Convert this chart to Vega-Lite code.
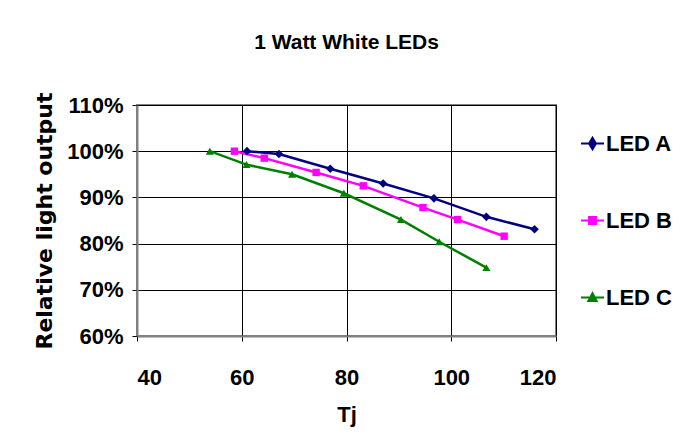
{
  "$schema": "https://vega.github.io/schema/vega-lite/v6.json",
  "autosize": "none",
  "width": 419,
  "height": 231,
  "padding": {"left": 137, "top": 105, "right": 134, "bottom": 100},
  "background": "white",
  "title": {
    "text": "1 Watt White LEDs",
    "font": "Liberation Sans",
    "fontSize": 21,
    "fontWeight": "bold",
    "color": "black",
    "anchor": "middle",
    "offset": 39
  },
  "config": {
    "view": {"stroke": "#808080", "strokeWidth": 2},
    "axis": {
      "labelFont": "Liberation Sans",
      "labelFontSize": 22,
      "labelFontWeight": "bold",
      "labelColor": "black",
      "titleColor": "black",
      "gridColor": "black",
      "gridOpacity": 1,
      "gridWidth": 1,
      "domainColor": "#808080",
      "domainWidth": 2,
      "tickColor": "black",
      "tickSize": 5
    }
  },
  "data": {
    "values": [
      {"LED": "LED A", "Tj": 61.0, "rel": 1.000},
      {"LED": "LED A", "Tj": 67.1, "rel": 0.994},
      {"LED": "LED A", "Tj": 76.9, "rel": 0.962},
      {"LED": "LED A", "Tj": 87.0, "rel": 0.930},
      {"LED": "LED A", "Tj": 96.7, "rel": 0.898},
      {"LED": "LED A", "Tj": 106.7, "rel": 0.858},
      {"LED": "LED A", "Tj": 115.9, "rel": 0.831},
      {"LED": "LED B", "Tj": 58.6, "rel": 1.000},
      {"LED": "LED B", "Tj": 64.3, "rel": 0.985},
      {"LED": "LED B", "Tj": 74.2, "rel": 0.954},
      {"LED": "LED B", "Tj": 83.2, "rel": 0.925},
      {"LED": "LED B", "Tj": 94.6, "rel": 0.878},
      {"LED": "LED B", "Tj": 101.2, "rel": 0.852},
      {"LED": "LED B", "Tj": 110.1, "rel": 0.816},
      {"LED": "LED C", "Tj": 53.9, "rel": 1.000},
      {"LED": "LED C", "Tj": 60.9, "rel": 0.971},
      {"LED": "LED C", "Tj": 69.6, "rel": 0.950},
      {"LED": "LED C", "Tj": 79.5, "rel": 0.909},
      {"LED": "LED C", "Tj": 90.4, "rel": 0.852},
      {"LED": "LED C", "Tj": 97.7, "rel": 0.804},
      {"LED": "LED C", "Tj": 106.7, "rel": 0.748}
    ]
  },
  "encoding": {
    "x": {
      "field": "Tj",
      "type": "quantitative",
      "scale": {"domain": [40, 120], "nice": false, "zero": false},
      "axis": {
        "values": [40, 60, 80, 100, 120],
        "title": "Tj",
        "titleFont": "Liberation Sans",
        "titleFontSize": 22,
        "titleFontWeight": "bold",
        "labelPadding": 26,
        "titlePadding": 16
      }
    },
    "y": {
      "field": "rel",
      "type": "quantitative",
      "scale": {"domain": [0.6, 1.1], "nice": false, "zero": false},
      "axis": {
        "values": [0.6, 0.7, 0.8, 0.9, 1.0, 1.1],
        "format": ".0%",
        "title": "Relative light output",
        "titleFont": "DejaVu Sans",
        "titleFontSize": 22,
        "titleFontWeight": "bold",
        "labelPadding": 9,
        "titlePadding": 10
      }
    },
    "color": {
      "field": "LED",
      "type": "nominal",
      "scale": {"domain": ["LED A", "LED B", "LED C"], "range": ["#000080", "#FF00FF", "#008000"]},
      "legend": {
        "title": null,
        "orient": "none",
        "legendX": 443,
        "legendY": 26,
        "padding": 0,
        "rowPadding": 53,
        "symbolSize": 529,
        "symbolStrokeWidth": 2,
        "labelFont": "Liberation Sans",
        "labelFontSize": 22,
        "labelFontWeight": "bold",
        "labelColor": "black",
        "labelOffset": 1,
        "encode": {
          "symbols": {
            "update": {
              "shape": {"signal": "datum.value === 'LED A' ? 'M-1,0L1,0M0,-0.5L0.3,0L0,0.5L-0.3,0Z' : datum.value === 'LED B' ? 'M-1,0L1,0M-0.3,-0.3L0.3,-0.3L0.3,0.3L-0.3,0.3Z' : 'M-1,0L1,0M0,-0.38L0.36,0.3L-0.36,0.3Z'"},
              "stroke": {"scale": "color", "field": "value"},
              "fill": {"scale": "color", "field": "value"},
              "strokeWidth": {"value": 2},
              "opacity": {"value": 1},
              "fillOpacity": {"value": 1},
              "strokeOpacity": {"value": 1}
            }
          }
        }
      }
    }
  },
  "layer": [
    {
      "mark": {"type": "line", "strokeWidth": 2.5},
      "encoding": {"order": {"field": "Tj"}}
    },
    {
      "transform": [{"filter": "datum.LED === 'LED A'"}],
      "mark": {"type": "point", "filled": true, "opacity": 1, "shape": "diamond", "size": 75}
    },
    {
      "transform": [{"filter": "datum.LED === 'LED B'"}],
      "mark": {"type": "point", "filled": true, "opacity": 1, "shape": "square", "size": 55}
    },
    {
      "transform": [{"filter": "datum.LED === 'LED C'"}],
      "mark": {"type": "point", "filled": true, "opacity": 1, "shape": "triangle-up", "size": 65}
    }
  ]
}
